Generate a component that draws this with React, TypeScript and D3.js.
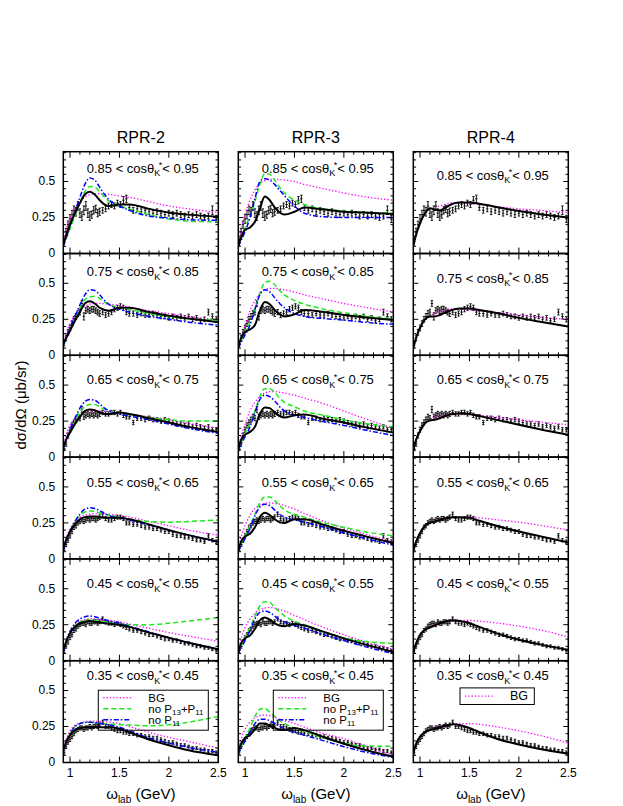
import React from "react";
import * as d3 from "d3";

// ---------- DATA ----------
const COLUMN_TITLES = ["RPR-2", "RPR-3", "RPR-4"];
const COS_BINS = [
  ["0.85", "0.95"],
  ["0.75", "0.85"],
  ["0.65", "0.75"],
  ["0.55", "0.65"],
  ["0.45", "0.55"],
  ["0.35", "0.45"],
];
const X_MAJOR = [1, 1.5, 2, 2.5];
const X_MAJOR_LABELS = ["1", "1.5", "2", "2.5"];
const X_MINOR = [1.1, 1.2, 1.3, 1.4, 1.6, 1.7, 1.8, 1.9, 2.1, 2.2, 2.3, 2.4];
const Y_MAJOR = [0, 0.25, 0.5];
const Y_MAJOR_LABELS = ["0", "0.25", "0.5"];
const Y_MINOR = [0.05, 0.1, 0.15, 0.2, 0.3, 0.35, 0.4, 0.45, 0.55, 0.6, 0.65, 0.7];

// photon lab energies of the data points (GeV)
const E_DATA = [
  0.94, 0.96, 0.98, 1.0, 1.02, 1.04, 1.06, 1.08, 1.1, 1.12,
  1.14, 1.16, 1.18, 1.2, 1.22, 1.24, 1.26, 1.28, 1.3, 1.33,
  1.36, 1.39, 1.42, 1.45, 1.48, 1.51, 1.54, 1.57, 1.6, 1.64,
  1.68, 1.72, 1.76, 1.8, 1.84, 1.88, 1.92, 1.96, 2.0, 2.04,
  2.08, 2.12, 2.16, 2.2, 2.24, 2.28, 2.32, 2.36, 2.4, 2.44,
  2.48,
];

const DSIG_R1 = [
  0.10, 0.15, 0.20, 0.24, 0.27, 0.30, 0.29, 0.33, 0.28, 0.26,
  0.30, 0.33, 0.28, 0.26, 0.27, 0.30, 0.31, 0.28, 0.29, 0.30,
  0.31, 0.33, 0.34, 0.33, 0.35, 0.34, 0.37, 0.38, 0.32, 0.30,
  0.31, 0.29, 0.30, 0.29, 0.28, 0.29, 0.28, 0.27, 0.28, 0.27,
  0.28, 0.27, 0.26, 0.27, 0.26, 0.27, 0.26, 0.25, 0.26, 0.30,
  0.24,
];
const ERR_R1 = [
  0.02, 0.025, 0.025, 0.03, 0.03, 0.03, 0.03, 0.03, 0.03, 0.03,
  0.03, 0.03, 0.03, 0.03, 0.025, 0.025, 0.025, 0.025, 0.025, 0.02,
  0.02, 0.02, 0.02, 0.02, 0.02, 0.02, 0.025, 0.025, 0.02, 0.02,
  0.02, 0.02, 0.02, 0.02, 0.02, 0.02, 0.02, 0.02, 0.02, 0.02,
  0.02, 0.02, 0.02, 0.02, 0.02, 0.02, 0.02, 0.02, 0.02, 0.03,
  0.025,
];
const DSIG_R2 = [
  0.08, 0.12, 0.16, 0.19, 0.22, 0.25, 0.27, 0.29, 0.30, 0.36,
  0.27, 0.31, 0.32, 0.31, 0.32, 0.32, 0.31, 0.30, 0.29, 0.30,
  0.28, 0.29, 0.30, 0.32, 0.33, 0.34, 0.33, 0.30, 0.29, 0.29,
  0.28, 0.29, 0.28, 0.28, 0.29, 0.28, 0.27, 0.27, 0.26, 0.27,
  0.26, 0.27, 0.26, 0.27, 0.25, 0.26, 0.24, 0.25, 0.30, 0.27,
  0.25,
];
const ERR_R2 = [
  0.015, 0.02, 0.02, 0.02, 0.02, 0.02, 0.02, 0.02, 0.02, 0.02,
  0.025, 0.02, 0.02, 0.02, 0.02, 0.02, 0.02, 0.02, 0.02, 0.018,
  0.018, 0.018, 0.018, 0.018, 0.018, 0.018, 0.018, 0.018, 0.018, 0.018,
  0.016, 0.016, 0.016, 0.016, 0.016, 0.016, 0.016, 0.016, 0.016, 0.016,
  0.016, 0.016, 0.016, 0.016, 0.016, 0.016, 0.016, 0.016, 0.02, 0.018,
  0.018,
];
const DSIG_R3 = [
  0.06, 0.09, 0.15, 0.19, 0.22, 0.24, 0.26, 0.28, 0.27, 0.33,
  0.28, 0.29, 0.30, 0.29, 0.30, 0.29, 0.30, 0.29, 0.30, 0.31,
  0.30, 0.30, 0.31, 0.31, 0.30, 0.31, 0.29, 0.28, 0.28, 0.24,
  0.27, 0.27, 0.26, 0.27, 0.26, 0.26, 0.25, 0.26, 0.25, 0.24,
  0.23, 0.23, 0.22, 0.23, 0.21, 0.22, 0.21, 0.20, 0.21, 0.19,
  0.19,
];
const ERR_R3 = [
  0.015, 0.015, 0.018, 0.018, 0.018, 0.018, 0.018, 0.018, 0.018, 0.022,
  0.018, 0.018, 0.018, 0.018, 0.018, 0.018, 0.018, 0.018, 0.018, 0.015,
  0.015, 0.015, 0.015, 0.015, 0.015, 0.015, 0.015, 0.015, 0.015, 0.015,
  0.015, 0.015, 0.015, 0.015, 0.015, 0.015, 0.015, 0.015, 0.015, 0.015,
  0.015, 0.015, 0.015, 0.015, 0.015, 0.015, 0.015, 0.015, 0.015, 0.015,
  0.015,
];
const DSIG_R4 = [
  0.07, 0.10, 0.13, 0.16, 0.19, 0.22, 0.23, 0.25, 0.26, 0.27,
  0.26, 0.27, 0.28, 0.27, 0.28, 0.28, 0.27, 0.28, 0.29, 0.31,
  0.28, 0.27, 0.27, 0.28, 0.29, 0.29, 0.28, 0.25, 0.25, 0.24,
  0.24, 0.23, 0.22, 0.22, 0.21, 0.21, 0.20, 0.19, 0.19, 0.17,
  0.16, 0.16, 0.15, 0.15, 0.14, 0.13, 0.13, 0.12, 0.16, 0.13,
  0.12,
];
const ERR_R4 = [
  0.012, 0.014, 0.015, 0.015, 0.015, 0.015, 0.015, 0.015, 0.015, 0.015,
  0.015, 0.015, 0.015, 0.015, 0.015, 0.015, 0.015, 0.015, 0.015, 0.015,
  0.014, 0.014, 0.014, 0.014, 0.014, 0.014, 0.014, 0.014, 0.014, 0.014,
  0.013, 0.013, 0.013, 0.013, 0.013, 0.013, 0.013, 0.013, 0.013, 0.013,
  0.012, 0.012, 0.012, 0.012, 0.012, 0.012, 0.012, 0.012, 0.015, 0.012,
  0.012,
];
const DSIG_R5 = [
  0.07, 0.10, 0.13, 0.16, 0.18, 0.21, 0.22, 0.24, 0.25, 0.26,
  0.26, 0.25, 0.27, 0.26, 0.26, 0.27, 0.27, 0.26, 0.27, 0.29,
  0.27, 0.26, 0.26, 0.25, 0.26, 0.25, 0.24, 0.23, 0.22, 0.21,
  0.21, 0.20, 0.19, 0.18, 0.18, 0.17, 0.16, 0.15, 0.15, 0.14,
  0.14, 0.13, 0.12, 0.12, 0.11, 0.10, 0.10, 0.09, 0.09, 0.08,
  0.07,
];
const ERR_R5 = [
  0.012, 0.013, 0.014, 0.014, 0.014, 0.014, 0.014, 0.014, 0.014, 0.014,
  0.014, 0.014, 0.014, 0.014, 0.014, 0.014, 0.014, 0.014, 0.014, 0.014,
  0.013, 0.013, 0.013, 0.013, 0.013, 0.013, 0.013, 0.013, 0.013, 0.012,
  0.012, 0.012, 0.012, 0.012, 0.012, 0.012, 0.012, 0.012, 0.011, 0.011,
  0.011, 0.011, 0.011, 0.011, 0.01, 0.01, 0.01, 0.01, 0.01, 0.01,
  0.01,
];
const DSIG_R6 = [
  0.07, 0.11, 0.14, 0.16, 0.18, 0.20, 0.22, 0.23, 0.24, 0.24,
  0.23, 0.24, 0.24, 0.25, 0.24, 0.25, 0.26, 0.25, 0.26, 0.28,
  0.25, 0.25, 0.24, 0.23, 0.22, 0.22, 0.21, 0.21, 0.20, 0.20,
  0.19, 0.19, 0.18, 0.18, 0.17, 0.17, 0.16, 0.15, 0.14, 0.14,
  0.13, 0.12, 0.12, 0.11, 0.10, 0.10, 0.09, 0.09, 0.08, 0.08,
  0.07,
];
const ERR_R6 = [
  0.012, 0.013, 0.013, 0.014, 0.014, 0.014, 0.014, 0.014, 0.014, 0.014,
  0.014, 0.014, 0.014, 0.014, 0.014, 0.014, 0.014, 0.014, 0.014, 0.014,
  0.013, 0.013, 0.013, 0.013, 0.013, 0.013, 0.013, 0.013, 0.012, 0.012,
  0.012, 0.012, 0.012, 0.012, 0.012, 0.012, 0.011, 0.011, 0.011, 0.011,
  0.011, 0.011, 0.01, 0.01, 0.01, 0.01, 0.01, 0.01, 0.01, 0.01,
  0.01,
];

// model curves, sampled at E_CURVE
const E_CURVE = [0.932, 0.96, 1.0, 1.05, 1.1, 1.15, 1.2, 1.25, 1.3, 1.35, 1.4, 1.5, 1.6, 1.8, 2.0, 2.2, 2.5];

const RPR2_FULL = [
  [0.06, 0.12, 0.2, 0.28, 0.35, 0.41, 0.428, 0.41, 0.37, 0.34, 0.33, 0.34, 0.34, 0.31, 0.285, 0.27, 0.255],
  [0.08, 0.12, 0.17, 0.24, 0.3, 0.36, 0.375, 0.36, 0.33, 0.315, 0.31, 0.33, 0.33, 0.3, 0.275, 0.255, 0.23],
  [0.07, 0.12, 0.17, 0.23, 0.28, 0.32, 0.33, 0.325, 0.31, 0.3, 0.3, 0.31, 0.3, 0.27, 0.24, 0.21, 0.175],
  [0.07, 0.13, 0.19, 0.24, 0.275, 0.29, 0.295, 0.295, 0.29, 0.285, 0.285, 0.285, 0.275, 0.24, 0.2, 0.165, 0.12],
  [0.07, 0.13, 0.19, 0.235, 0.26, 0.27, 0.275, 0.27, 0.265, 0.26, 0.257, 0.25, 0.235, 0.195, 0.16, 0.125, 0.08],
  [0.09, 0.14, 0.19, 0.225, 0.24, 0.245, 0.245, 0.245, 0.245, 0.245, 0.245, 0.235, 0.21, 0.16, 0.12, 0.085, 0.05],
];
const RPR2_BG = [
  [0.07, 0.16, 0.25, 0.31, 0.36, 0.39, 0.41, 0.415, 0.415, 0.412, 0.41, 0.4, 0.39, 0.36, 0.33, 0.31, 0.285],
  [0.08, 0.15, 0.22, 0.28, 0.32, 0.34, 0.355, 0.36, 0.36, 0.358, 0.355, 0.345, 0.335, 0.31, 0.29, 0.27, 0.245],
  [0.07, 0.15, 0.22, 0.27, 0.3, 0.315, 0.32, 0.32, 0.32, 0.318, 0.315, 0.31, 0.3, 0.28, 0.26, 0.235, 0.2],
  [0.07, 0.14, 0.21, 0.26, 0.29, 0.305, 0.31, 0.315, 0.315, 0.313, 0.31, 0.3, 0.29, 0.26, 0.23, 0.2, 0.165],
  [0.07, 0.14, 0.21, 0.255, 0.275, 0.285, 0.29, 0.29, 0.285, 0.283, 0.28, 0.27, 0.255, 0.225, 0.195, 0.17, 0.135],
  [0.09, 0.16, 0.22, 0.26, 0.275, 0.283, 0.287, 0.287, 0.285, 0.283, 0.28, 0.27, 0.25, 0.21, 0.175, 0.145, 0.1],
];
const RPR2_NO_P13P11 = [
  [0.05, 0.1, 0.17, 0.26, 0.35, 0.43, 0.465, 0.46, 0.43, 0.39, 0.36, 0.33, 0.31, 0.27, 0.24, 0.225, 0.22],
  [0.07, 0.12, 0.18, 0.26, 0.33, 0.385, 0.405, 0.41, 0.395, 0.37, 0.35, 0.335, 0.32, 0.29, 0.27, 0.255, 0.245],
  [0.07, 0.12, 0.18, 0.25, 0.31, 0.35, 0.365, 0.365, 0.35, 0.33, 0.32, 0.31, 0.295, 0.275, 0.26, 0.25, 0.25],
  [0.07, 0.13, 0.19, 0.26, 0.3, 0.325, 0.333, 0.33, 0.32, 0.31, 0.305, 0.29, 0.275, 0.26, 0.255, 0.26, 0.27],
  [0.07, 0.13, 0.19, 0.245, 0.27, 0.28, 0.283, 0.28, 0.275, 0.27, 0.265, 0.255, 0.25, 0.25, 0.26, 0.275, 0.3],
  [0.08, 0.14, 0.2, 0.25, 0.27, 0.278, 0.28, 0.278, 0.275, 0.27, 0.268, 0.263, 0.26, 0.255, 0.262, 0.28, 0.32],
];
const RPR2_NO_P11 = [
  [0.05, 0.11, 0.19, 0.29, 0.39, 0.48, 0.525, 0.51, 0.46, 0.41, 0.37, 0.33, 0.3, 0.26, 0.245, 0.235, 0.23],
  [0.07, 0.12, 0.19, 0.27, 0.35, 0.42, 0.455, 0.45, 0.42, 0.38, 0.35, 0.32, 0.3, 0.27, 0.25, 0.23, 0.21],
  [0.06, 0.12, 0.19, 0.27, 0.34, 0.385, 0.4, 0.395, 0.37, 0.34, 0.32, 0.3, 0.285, 0.26, 0.23, 0.2, 0.165],
  [0.06, 0.12, 0.19, 0.26, 0.31, 0.345, 0.355, 0.35, 0.335, 0.315, 0.3, 0.285, 0.27, 0.235, 0.2, 0.165, 0.115],
  [0.06, 0.13, 0.2, 0.26, 0.29, 0.305, 0.31, 0.305, 0.295, 0.285, 0.275, 0.26, 0.24, 0.2, 0.16, 0.125, 0.08],
  [0.08, 0.14, 0.2, 0.25, 0.27, 0.278, 0.28, 0.277, 0.272, 0.265, 0.26, 0.245, 0.22, 0.17, 0.135, 0.105, 0.07],
];

const RPR3_FULL = [
  [0.05, 0.11, 0.165, 0.18, 0.22, 0.31, 0.395, 0.37, 0.32, 0.285, 0.27, 0.29, 0.32, 0.305, 0.29, 0.285, 0.275],
  [0.06, 0.12, 0.16, 0.18, 0.21, 0.31, 0.37, 0.355, 0.315, 0.285, 0.27, 0.285, 0.315, 0.3, 0.28, 0.265, 0.245],
  [0.06, 0.12, 0.155, 0.175, 0.21, 0.3, 0.345, 0.34, 0.31, 0.285, 0.275, 0.29, 0.295, 0.265, 0.24, 0.21, 0.17],
  [0.06, 0.12, 0.155, 0.175, 0.22, 0.29, 0.32, 0.305, 0.275, 0.255, 0.25, 0.275, 0.275, 0.235, 0.195, 0.16, 0.11],
  [0.06, 0.12, 0.155, 0.175, 0.22, 0.28, 0.3, 0.285, 0.26, 0.245, 0.24, 0.255, 0.245, 0.2, 0.155, 0.115, 0.06],
  [0.08, 0.13, 0.17, 0.19, 0.23, 0.27, 0.27, 0.255, 0.24, 0.228, 0.225, 0.24, 0.225, 0.175, 0.13, 0.09, 0.04],
];
const RPR3_BG = [
  [0.07, 0.16, 0.27, 0.37, 0.44, 0.485, 0.505, 0.515, 0.515, 0.513, 0.51, 0.5, 0.48, 0.45, 0.42, 0.395, 0.37],
  [0.06, 0.11, 0.21, 0.31, 0.38, 0.43, 0.455, 0.465, 0.465, 0.46, 0.455, 0.44, 0.42, 0.39, 0.36, 0.335, 0.3],
  [0.07, 0.14, 0.23, 0.32, 0.38, 0.42, 0.445, 0.455, 0.455, 0.45, 0.445, 0.43, 0.41, 0.37, 0.32, 0.27, 0.2],
  [0.07, 0.15, 0.23, 0.3, 0.35, 0.375, 0.385, 0.39, 0.385, 0.38, 0.37, 0.345, 0.315, 0.26, 0.215, 0.175, 0.12],
  [0.07, 0.15, 0.23, 0.29, 0.33, 0.355, 0.365, 0.37, 0.365, 0.355, 0.345, 0.315, 0.285, 0.23, 0.18, 0.135, 0.08],
  [0.08, 0.16, 0.23, 0.28, 0.31, 0.325, 0.33, 0.325, 0.315, 0.3, 0.29, 0.27, 0.245, 0.2, 0.165, 0.12, 0.05],
];
const RPR3_NO_P13P11 = [
  [0.05, 0.1, 0.18, 0.26, 0.36, 0.48, 0.555, 0.55, 0.51, 0.46, 0.42, 0.37, 0.34, 0.31, 0.295, 0.285, 0.28],
  [0.05, 0.1, 0.16, 0.23, 0.32, 0.43, 0.505, 0.515, 0.49, 0.45, 0.42, 0.38, 0.355, 0.32, 0.295, 0.275, 0.255],
  [0.05, 0.1, 0.16, 0.23, 0.32, 0.42, 0.475, 0.475, 0.45, 0.41, 0.38, 0.35, 0.32, 0.29, 0.26, 0.235, 0.21],
  [0.05, 0.1, 0.16, 0.23, 0.31, 0.39, 0.43, 0.43, 0.405, 0.37, 0.34, 0.31, 0.29, 0.25, 0.22, 0.19, 0.16],
  [0.05, 0.1, 0.16, 0.23, 0.31, 0.38, 0.41, 0.405, 0.37, 0.34, 0.31, 0.275, 0.25, 0.2, 0.16, 0.135, 0.12],
  [0.06, 0.11, 0.17, 0.24, 0.32, 0.37, 0.375, 0.35, 0.32, 0.29, 0.27, 0.24, 0.215, 0.17, 0.135, 0.115, 0.113],
];
const RPR3_NO_P11 = [
  [0.05, 0.09, 0.15, 0.25, 0.38, 0.5, 0.52, 0.51, 0.48, 0.44, 0.4, 0.33, 0.28, 0.255, 0.25, 0.25, 0.25],
  [0.05, 0.09, 0.14, 0.21, 0.32, 0.42, 0.455, 0.44, 0.4, 0.36, 0.33, 0.29, 0.27, 0.255, 0.245, 0.23, 0.215],
  [0.05, 0.09, 0.14, 0.21, 0.31, 0.4, 0.43, 0.42, 0.39, 0.35, 0.32, 0.29, 0.275, 0.245, 0.22, 0.19, 0.15],
  [0.05, 0.09, 0.14, 0.21, 0.3, 0.36, 0.38, 0.37, 0.34, 0.31, 0.29, 0.27, 0.255, 0.22, 0.18, 0.145, 0.095],
  [0.05, 0.09, 0.14, 0.21, 0.29, 0.335, 0.345, 0.335, 0.31, 0.285, 0.27, 0.245, 0.225, 0.18, 0.14, 0.1, 0.05],
  [0.06, 0.1, 0.15, 0.21, 0.27, 0.3, 0.3, 0.29, 0.27, 0.25, 0.235, 0.21, 0.19, 0.15, 0.11, 0.075, 0.035],
];

const RPR4_FULL = [
  [0.05, 0.13, 0.21, 0.28, 0.315, 0.305, 0.3, 0.315, 0.335, 0.35, 0.355, 0.355, 0.345, 0.32, 0.295, 0.275, 0.25],
  [0.05, 0.12, 0.19, 0.25, 0.27, 0.27, 0.28, 0.295, 0.31, 0.32, 0.325, 0.325, 0.315, 0.29, 0.26, 0.235, 0.2],
  [0.05, 0.12, 0.18, 0.235, 0.255, 0.26, 0.27, 0.285, 0.295, 0.3, 0.305, 0.3, 0.285, 0.255, 0.225, 0.195, 0.155],
  [0.06, 0.12, 0.18, 0.23, 0.25, 0.26, 0.27, 0.28, 0.285, 0.29, 0.29, 0.285, 0.265, 0.225, 0.19, 0.16, 0.115],
  [0.06, 0.12, 0.18, 0.215, 0.23, 0.245, 0.26, 0.27, 0.28, 0.28, 0.275, 0.26, 0.235, 0.185, 0.145, 0.115, 0.075],
  [0.07, 0.13, 0.18, 0.21, 0.225, 0.235, 0.245, 0.255, 0.262, 0.265, 0.26, 0.24, 0.21, 0.16, 0.125, 0.095, 0.06],
];
const RPR4_BG = [
  [0.05, 0.13, 0.21, 0.275, 0.3, 0.315, 0.33, 0.34, 0.35, 0.353, 0.355, 0.35, 0.34, 0.325, 0.31, 0.3, 0.285],
  [0.05, 0.12, 0.19, 0.25, 0.275, 0.29, 0.305, 0.315, 0.32, 0.32, 0.32, 0.315, 0.31, 0.295, 0.28, 0.265, 0.25],
  [0.05, 0.12, 0.18, 0.235, 0.26, 0.275, 0.285, 0.29, 0.295, 0.298, 0.3, 0.295, 0.29, 0.275, 0.26, 0.245, 0.225],
  [0.06, 0.12, 0.18, 0.23, 0.255, 0.265, 0.275, 0.28, 0.285, 0.288, 0.29, 0.29, 0.285, 0.27, 0.255, 0.235, 0.2],
  [0.06, 0.12, 0.18, 0.215, 0.235, 0.25, 0.262, 0.27, 0.275, 0.278, 0.28, 0.28, 0.275, 0.26, 0.24, 0.215, 0.165],
  [0.07, 0.13, 0.18, 0.21, 0.225, 0.24, 0.25, 0.258, 0.265, 0.268, 0.27, 0.27, 0.265, 0.245, 0.22, 0.19, 0.135],
];

// ---------- LAYOUT / STYLE ----------
const FONT = "'Liberation Sans', Arial, Helvetica, sans-serif";
const COL_LEFT = [63.3, 238.3, 413.3];
const PANEL_W = 155;
const ROW_TOP0 = 151.7;
const PANEL_H = 101.8;
const LABEL_DY = [21.3, 22.7, 29.2, 30.4, 29.6, 19.5];
const LABEL_DY_COL3 = [7, 6.5, 0, 0, 0, 0];

const DATA_ROWS = [DSIG_R1, DSIG_R2, DSIG_R3, DSIG_R4, DSIG_R5, DSIG_R6];
const ERR_ROWS = [ERR_R1, ERR_R2, ERR_R3, ERR_R4, ERR_R5, ERR_R6];

const STYLES = {
  bg: { stroke: "#ff00ff", width: 1.3, dash: "1.3 2" },
  p13: { stroke: "#1ee81e", width: 1.5, dash: "5 3" },
  p11: { stroke: "#0000ff", width: 1.5, dash: "5 2 1.5 2" },
  full: { stroke: "#000000", width: 2, dash: undefined as string | undefined },
};

const COLUMNS = [
  { bg: RPR2_BG, p13: RPR2_NO_P13P11, p11: RPR2_NO_P11, full: RPR2_FULL },
  { bg: RPR3_BG, p13: RPR3_NO_P13P11, p11: RPR3_NO_P11, full: RPR3_FULL },
  { bg: RPR4_BG, p13: null, p11: null, full: RPR4_FULL },
];

const xScale = d3.scaleLinear().domain([0.932, 2.5]).range([0, PANEL_W]);
const yScale = d3.scaleLinear().domain([0, 0.707]).range([PANEL_H, 0]);

const lineGen = d3
  .line<number>()
  .x((_, i) => xScale(E_CURVE[i]))
  .y((d) => yScale(d))
  .curve(d3.curveMonotoneX);

const LEG_FS = 11.5;

function Legend({ col }: { col: number }) {
  if (col === 2) {
    const bx = 46.7, by = 27.2, bw = 74.3, bh = 16.6;
    return (
      <g>
        <rect x={bx} y={by} width={bw} height={bh} fill="none" stroke="#000" strokeWidth={1} />
        <line x1={bx + 5} x2={bx + 33} y1={by + bh / 2} y2={by + bh / 2} stroke={STYLES.bg.stroke} strokeWidth={1.3} strokeDasharray={STYLES.bg.dash} />
        <text x={bx + 50} y={by + bh / 2 + 4.3} fontSize={12.5} fontFamily={FONT}>BG</text>
      </g>
    );
  }
  const bx = 35, by = 29.5, bw = 110, bh = 40;
  const rows = [
    { s: STYLES.bg, y: by + 7.5, t: <>BG</> },
    {
      s: STYLES.p13,
      y: by + 18.5,
      t: (
        <>
          no P<tspan fontSize={8} dy={2.5}>13</tspan>
          <tspan dy={-2.5}>+P</tspan>
          <tspan fontSize={8} dy={2.5}>11</tspan>
        </>
      ),
    },
    {
      s: STYLES.p11,
      y: by + 29.5,
      t: (
        <>
          no P<tspan fontSize={8} dy={2.5}>11</tspan>
        </>
      ),
    },
  ];
  return (
    <g>
      <rect x={bx} y={by} width={bw} height={bh} fill="none" stroke="#000" strokeWidth={1} />
      {rows.map((r, i) => (
        <g key={i}>
          <line x1={bx + 5} x2={bx + 33} y1={r.y} y2={r.y} stroke={r.s.stroke} strokeWidth={r.s.width} strokeDasharray={r.s.dash} />
          <text x={bx + 50} y={r.y + 4} fontSize={LEG_FS} fontFamily={FONT}>{r.t}</text>
        </g>
      ))}
    </g>
  );
}

function Panel({ col, row }: { col: number; row: number }) {
  const left = COL_LEFT[col];
  const top = ROW_TOP0 + row * PANEL_H;
  const clipId = `clip-${col}-${row}`;
  const vals = DATA_ROWS[row];
  const errs = ERR_ROWS[row];
  const models = COLUMNS[col];
  const curveKeys: ("bg" | "p13" | "p11" | "full")[] = ["bg", "p13", "p11", "full"];
  const [lo, hi] = COS_BINS[row];
  const labelY = LABEL_DY[row] + (col === 2 ? LABEL_DY_COL3[row] : 0);

  return (
    <g transform={`translate(${left},${top})`}>
      <defs>
        <clipPath id={clipId}>
          <rect x={0} y={0} width={PANEL_W} height={PANEL_H} />
        </clipPath>
      </defs>
      <g clipPath={`url(#${clipId})`}>
        {E_DATA.map((e, i) => {
          const cx = xScale(e);
          const y1 = yScale(vals[i] - errs[i]);
          const y2 = yScale(vals[i] + errs[i]);
          const cy = yScale(vals[i]);
          return (
            <g key={i} stroke="#000" strokeWidth={0.9}>
              <line x1={cx} x2={cx} y1={y1} y2={y2} />
              <line x1={cx - 1.2} x2={cx + 1.2} y1={y1} y2={y1} />
              <line x1={cx - 1.2} x2={cx + 1.2} y1={y2} y2={y2} />
              <line x1={cx - 1.2} x2={cx + 1.2} y1={cy} y2={cy} />
            </g>
          );
        })}
        {curveKeys.map((k) => {
          const set = (models as any)[k];
          if (!set) return null;
          const st = STYLES[k];
          return (
            <path
              key={k}
              d={lineGen(set[row]) || ""}
              fill="none"
              stroke={st.stroke}
              strokeWidth={st.width}
              strokeDasharray={st.dash}
            />
          );
        })}
      </g>
      {/* ticks */}
      <g stroke="#000" strokeWidth={1}>
        {X_MAJOR.map((v) => (
          <g key={`xM${v}`}>
            <line x1={xScale(v)} x2={xScale(v)} y1={PANEL_H} y2={PANEL_H - 6} />
            <line x1={xScale(v)} x2={xScale(v)} y1={0} y2={6} />
          </g>
        ))}
        {X_MINOR.map((v) => (
          <g key={`xm${v}`}>
            <line x1={xScale(v)} x2={xScale(v)} y1={PANEL_H} y2={PANEL_H - 3} />
            <line x1={xScale(v)} x2={xScale(v)} y1={0} y2={3} />
          </g>
        ))}
        {Y_MAJOR.map((v) => (
          <g key={`yM${v}`}>
            <line x1={0} x2={5} y1={yScale(v)} y2={yScale(v)} />
            <line x1={PANEL_W} x2={PANEL_W - 5} y1={yScale(v)} y2={yScale(v)} />
          </g>
        ))}
        {Y_MINOR.map((v) => (
          <g key={`ym${v}`}>
            <line x1={0} x2={2.8} y1={yScale(v)} y2={yScale(v)} />
            <line x1={PANEL_W} x2={PANEL_W - 2.8} y1={yScale(v)} y2={yScale(v)} />
          </g>
        ))}
      </g>
      <rect x={0} y={0} width={PANEL_W} height={PANEL_H} fill="none" stroke="#000" strokeWidth={1.5} />
      <text x={PANEL_W / 2 + 2} y={labelY} fontSize={13} fontFamily={FONT} textAnchor="middle">
        {`${lo} < cosθ`}
        <tspan fontSize={9} dy={3.5}>K</tspan>
        <tspan fontSize={9} dy={-8} dx={-1.5}>*</tspan>
        <tspan dy={4.5}>{`< ${hi}`}</tspan>
      </text>
      {col === 0 &&
        Y_MAJOR.map((v, i) => (
          <text key={`yl${v}`} x={-8} y={yScale(v) + 4} fontSize={12} fontFamily={FONT} textAnchor="end">
            {Y_MAJOR_LABELS[i]}
          </text>
        ))}
      {row === 5 &&
        X_MAJOR.map((v, i) => (
          <text key={`xl${v}`} x={xScale(v)} y={PANEL_H + 15} fontSize={12} fontFamily={FONT} textAnchor="middle">
            {X_MAJOR_LABELS[i]}
          </text>
        ))}
      {row === 5 && <Legend col={col} />}
    </g>
  );
}

export default function App() {
  const cols = [0, 1, 2];
  const rows = [0, 1, 2, 3, 4, 5];
  return (
    <svg
      width={623}
      height={806}
      style={{ position: "absolute", left: 0, top: 0, background: "#fff" }}
      xmlns="http://www.w3.org/2000/svg"
    >
      <rect x={0} y={0} width={623} height={806} fill="#fff" />
      {cols.map((c) => (
        <text key={`t${c}`} x={COL_LEFT[c] + PANEL_W / 2} y={143} fontSize={16} fontFamily={FONT} textAnchor="middle">
          {COLUMN_TITLES[c]}
        </text>
      ))}
      {cols.map((c) => rows.map((r) => <Panel key={`${c}-${r}`} col={c} row={r} />))}
      {cols.map((c) => (
        <text key={`xt${c}`} x={COL_LEFT[c] + PANEL_W / 2} y={799} fontSize={15} fontFamily={FONT} textAnchor="middle">
          ω<tspan fontSize={10} dy={4}>lab</tspan>
          <tspan dy={-4}> (GeV)</tspan>
        </text>
      ))}
      <text
        transform="translate(26,405) rotate(-90)"
        fontSize={15}
        fontFamily={FONT}
        textAnchor="middle"
      >
        dσ/dΩ (μb/sr)
      </text>
    </svg>
  );
}
